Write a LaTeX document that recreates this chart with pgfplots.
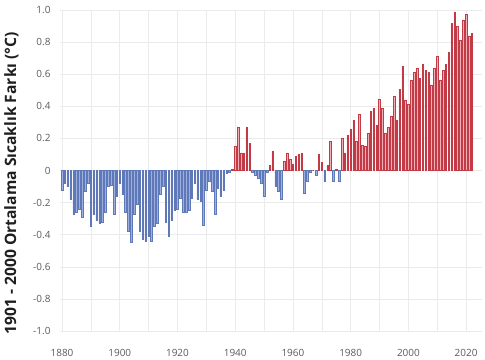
\documentclass[border=0pt]{standalone}
\usepackage{fontspec}
\setmainfont{Open Sans}
\usepackage{pgfplots}
\pgfplotsset{compat=1.18}
\usepackage{pgfplotstable}
\definecolor{gridc}{HTML}{EBEBEB}
\definecolor{tickc}{HTML}{5A5A5A}
\definecolor{bluedraw}{HTML}{5F78B8}
\definecolor{bluefill}{HTML}{9DAFDF}
\definecolor{reddraw}{HTML}{C23A46}
\definecolor{redfill}{HTML}{F2B0B6}

\pgfplotstableread{
year val
1880 -0.12
1881 -0.08
1882 -0.10
1883 -0.18
1884 -0.27
1885 -0.26
1886 -0.24
1887 -0.29
1888 -0.13
1889 -0.08
1890 -0.35
1891 -0.27
1892 -0.31
1893 -0.33
1894 -0.32
1895 -0.26
1896 -0.10
1897 -0.09
1898 -0.27
1899 -0.16
1900 -0.08
1901 -0.15
1902 -0.26
1903 -0.38
1904 -0.45
1905 -0.27
1906 -0.21
1907 -0.38
1908 -0.43
1909 -0.44
1910 -0.41
1911 -0.44
1912 -0.35
1913 -0.33
1914 -0.15
1915 -0.10
1916 -0.32
1917 -0.41
1918 -0.31
1919 -0.25
1920 -0.24
1921 -0.17
1922 -0.26
1923 -0.26
1924 -0.25
1925 -0.17
1926 -0.08
1927 -0.18
1928 -0.19
1929 -0.34
1930 -0.12
1931 -0.07
1932 -0.13
1933 -0.27
1934 -0.11
1935 -0.16
1936 -0.12
1937 -0.02
1938 -0.01
1939 0.01
1940 0.15
1941 0.27
1942 0.11
1943 0.11
1944 0.27
1945 0.17
1946 -0.01
1947 -0.03
1948 -0.05
1949 -0.08
1950 -0.16
1951 -0.01
1952 0.03
1953 0.12
1954 -0.10
1955 -0.13
1956 -0.18
1957 0.06
1958 0.11
1959 0.07
1960 0.04
1961 0.09
1962 0.10
1963 0.11
1964 -0.14
1965 -0.07
1966 -0.01
1967 0.00
1968 -0.03
1969 0.10
1970 0.05
1971 -0.07
1972 0.03
1973 0.18
1974 -0.07
1975 0.01
1976 -0.07
1977 0.20
1978 0.11
1979 0.22
1980 0.26
1981 0.31
1982 0.18
1983 0.35
1984 0.16
1985 0.15
1986 0.23
1987 0.37
1988 0.385
1989 0.28
1990 0.445
1991 0.385
1992 0.23
1993 0.27
1994 0.335
1995 0.46
1996 0.31
1997 0.505
1998 0.65
1999 0.435
2000 0.41
2001 0.565
2002 0.61
2003 0.635
2004 0.575
2005 0.665
2006 0.625
2007 0.61
2008 0.53
2009 0.635
2010 0.713
2011 0.565
2012 0.625
2013 0.665
2014 0.734
2015 0.917
2016 0.985
2017 0.896
2018 0.813
2019 0.938
2020 0.975
2021 0.834
2022 0.855
}\anom

\begin{document}
\begin{tikzpicture}
\begin{axis}[
  at={(0,0)}, anchor=south west,
  scale only axis, width=422bp, height=321bp,
  xmin=1879.3, xmax=2025.5, ymin=-1, ymax=1,
  axis line style={draw=none},
  major tick length=0pt, minor tick length=0pt,
  xtick={1880,1900,1920,1940,1960,1980,2000,2020},
  minor xtick={1890,1910,1930,1950,1970,1990,2010},
  ytick={-1,-0.8,-0.6,-0.4,-0.2,0,0.2,0.4,0.6,0.8,1},
  yticklabels={-1.0,-0.8,-0.6,-0.4,-0.2,0,0.2,0.4,0.6,0.8,1.0},
  xticklabel={\pgfmathprintnumber[1000 sep={}]{\tick}},
  xmajorgrids, xminorgrids, ymajorgrids,
  major grid style={gridc, line width=0.6bp},
  minor grid style={gridc, line width=0.6bp},
  tick label style={font=\fontsize{10}{12}\selectfont, text=tickc},
  /pgf/number format/assume math mode=true,
  xticklabel style={yshift=-15bp},
  yticklabel style={xshift=-6bp},
  ylabel={1901 - 2000 Ortalama Sıcaklık Farkı (°C)},
  ylabel style={at={(axis description cs:-0.115,0.46)}, anchor=center,
    font=\bfseries\fontsize{15.7}{18}\selectfont, text=black!88},
  ybar, bar width=0.55,
]
\addplot[bar shift=0pt, draw=bluedraw, fill=bluefill, line width=0.5bp,
  restrict y to domain=-2:-0.001] table[x=year, y=val] {\anom};
\addplot[bar shift=0pt, draw=reddraw, fill=redfill, line width=0.5bp,
  restrict y to domain=0:2] table[x=year, y=val] {\anom};
\end{axis}
\pgfresetboundingbox
\path[use as bounding box] (-60bp,-29bp) rectangle (425bp,331bp);
\end{tikzpicture}
\end{document}
